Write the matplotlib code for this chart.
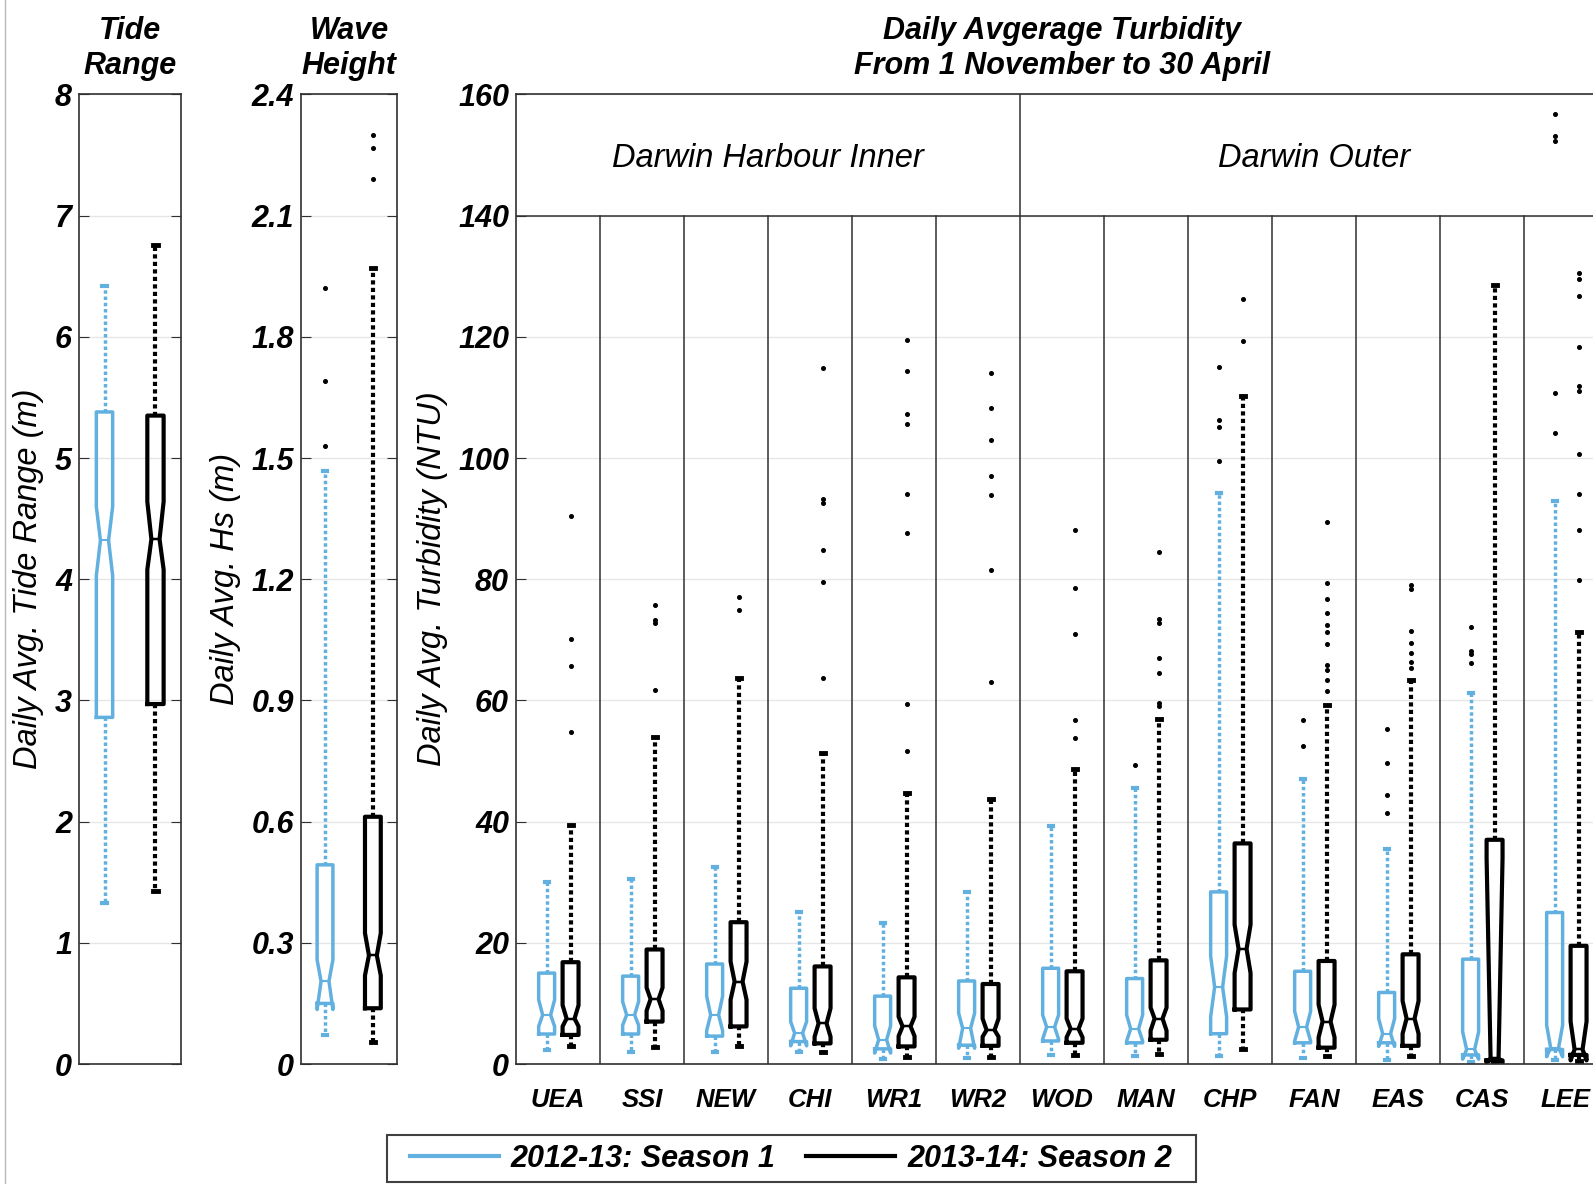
import matplotlib
matplotlib.use('Agg')
import matplotlib.pyplot as plt
from matplotlib import font_manager
from matplotlib.lines import Line2D
from matplotlib.patches import Rectangle

plt.rcParams['font.family'] = ['Liberation Sans', 'DejaVu Sans']

BLUE = '#62b0e0'
BLACK = '#000000'

# tide range (m)   [season 1, season 2]
tide_q1 = [2.86, 2.97]
tide_med = [4.32, 4.33]
tide_q3 = [5.38, 5.35]
tide_lo = [1.33, 1.43]
tide_hi = [6.42, 6.76]
tide_cilo = [4.03, 4.08]
tide_cihi = [4.60, 4.64]
tide_out = [[], []]

# wave height Hs (m)   [season 1, season 2]
wave_q1 = [0.150, 0.138]
wave_med = [0.205, 0.269]
wave_q3 = [0.493, 0.612]
wave_lo = [0.071, 0.055]
wave_hi = [1.469, 1.97]
wave_cilo = [0.135, 0.219]
wave_cihi = [0.258, 0.324]
wave_out = [[1.92, 1.69, 1.53], [2.30, 2.267, 2.19]]

# turbidity (NTU)
sites = ['UEA', 'SSI', 'NEW', 'CHI', 'WR1', 'WR2', 'WOD', 'MAN', 'CHP', 'FAN', 'EAS', 'CAS', 'LEE']

# season 1: 2012-13
s1_q1 = [4.95, 4.95, 4.6, 3.7, 2.5, 3.1, 3.8, 3.5, 5.0, 3.5, 3.5, 1.5, 2.4]
s1_med = [8.1, 8.1, 8.1, 5.1, 4.0, 5.9, 6.1, 5.8, 12.7, 6.1, 5.0, 2.4, 2.7]
s1_q3 = [15.0, 14.5, 16.5, 12.5, 11.2, 13.7, 15.8, 14.1, 28.4, 15.3, 11.8, 17.3, 25.0]
s1_lo = [2.3, 2.0, 2.0, 1.9, 0.8, 1.0, 1.5, 1.3, 1.3, 1.0, 0.7, 0.4, 0.7]
s1_hi = [30.1, 30.6, 32.5, 25.1, 23.2, 28.4, 39.3, 45.5, 94.2, 47.0, 35.5, 61.3, 92.9]
s1_cilo = [6.2, 6.4, 5.5, 3.0, 1.8, 2.6, 4.1, 3.8, 7.8, 3.8, 2.9, 0.8, 1.2]
s1_cihi = [10.6, 10.3, 11.2, 7.0, 6.3, 8.4, 8.1, 8.1, 17.8, 8.7, 7.5, 5.3, 6.4]
s1_out = [[], [], [], [], [], [], [],
          [49.3],
          [115.1, 106.3, 105.2, 99.5],
          [56.7, 52.4],
          [55.3, 49.7, 44.4, 41.5],
          [72.1, 68.1, 67.6, 66.1],
          [156.8, 153.2, 152.3, 110.7, 104.1]]

# season 2: 2013-14
s2_q1 = [4.8, 7.0, 6.2, 3.4, 2.9, 3.0, 3.5, 4.0, 9.0, 2.7, 3.0, 0.6, 1.5]
s2_med = [7.5, 10.7, 13.6, 6.7, 6.2, 5.6, 5.8, 7.5, 19.0, 7.0, 7.5, 1.0, 2.4]
s2_q3 = [16.8, 18.9, 23.4, 16.1, 14.3, 13.2, 15.3, 17.1, 36.4, 17.0, 18.1, 37.0, 19.5]
s2_lo = [2.9, 2.75, 3.0, 1.9, 1.2, 1.2, 1.5, 1.7, 2.4, 1.3, 1.3, 0.1, 0.5]
s2_hi = [39.4, 54.0, 63.7, 51.3, 44.7, 43.8, 48.7, 57.0, 110.2, 59.3, 63.3, 128.5, 71.3]
s2_cilo = [6.2, 8.8, 10.6, 4.5, 4.6, 4.5, 4.4, 5.5, 15.0, 4.4, 5.0, 0.2, 0.6]
s2_cihi = [9.7, 12.6, 16.9, 9.2, 7.8, 7.5, 7.5, 9.3, 23.0, 9.8, 10.4, 34.0, 7.0]
s2_out = [[90.5, 70.1, 65.7, 54.8],
          [75.8, 73.3, 72.7, 61.8],
          [77.0, 75.0],
          [114.9, 93.3, 92.5, 84.8, 79.6, 63.7],
          [119.4, 114.4, 107.2, 105.6, 94.0, 87.7, 59.4, 51.6],
          [114.1, 108.3, 103.0, 97.0, 93.9, 81.6, 63.1],
          [88.2, 78.5, 71.0, 56.8, 53.8],
          [84.5, 73.5, 72.8, 67.0, 64.5, 59.5, 59.0],
          [126.2, 119.3],
          [89.4, 79.3, 76.7, 74.4, 72.4, 71.3, 69.3, 65.8, 65.0, 63.3, 61.5],
          [79.0, 78.4, 71.4, 69.4, 67.8, 66.4, 65.3],
          [],
          [130.5, 129.6, 126.8, 118.4, 111.9, 111.0, 100.7, 94.1, 88.2, 79.8]]

groups = ['Darwin Harbour Inner', 'Darwin Outer']
legend_labels = ['2012-13: Season 1', '2013-14: Season 2']


def to_stats(q1, med, q3, lo, hi, cilo, cihi, out):
    return [dict(q1=a, med=m, q3=b, whislo=l, whishi=h, cilo=cl, cihi=ch, fliers=o)
            for a, m, b, l, h, cl, ch, o in zip(q1, med, q3, lo, hi, cilo, cihi, out)]


def draw(ax, stats, pos, width, color, lw):
    ax.bxp(stats, positions=pos, widths=width, shownotches=True, manage_ticks=False,
           capwidths=width * 0.25,
           boxprops=dict(color=color, lw=lw),
           whiskerprops=dict(color=color, lw=lw, linestyle=(0, (1, 0.8))),
           capprops=dict(color=color, lw=lw + 0.5),
           medianprops=dict(color=color, lw=lw * 0.6),
           flierprops=dict(marker='o', markersize=2.6, markerfacecolor='k',
                           markeredgecolor='k', linestyle='none'))


def style(ax, ymax, step, labels):
    ax.set_ylim(0, ymax)
    ticks = [i * step for i in range(len(labels))]
    ax.set_yticks(ticks)
    ax.set_yticklabels(labels, fontsize=22, fontweight='bold', style='italic')
    ax.tick_params(axis='y', direction='in', length=7, left=True, right=True, pad=5,
                   color='#303030')
    ax.tick_params(axis='x', length=0)
    ax.yaxis.grid(True, color='#e6e6e6', lw=1)
    ax.set_axisbelow(True)
    for s in ax.spines.values():
        s.set_color('#303030')
        s.set_linewidth(1.2)


fig = plt.figure(figsize=(15.93, 11.84), dpi=100)
bot, hgt = 0.10135, 0.8189
ax_t = fig.add_axes([0.0496, bot, 0.0640, hgt])
ax_w = fig.add_axes([0.1890, bot, 0.0601, hgt])
ax_b = fig.add_axes([0.3239, bot, 0.6855, hgt])

tfont = dict(fontsize=22, fontweight='bold', style='italic')

# tide
tide_stats = to_stats(tide_q1, tide_med, tide_q3, tide_lo, tide_hi, tide_cilo, tide_cihi, tide_out)
draw(ax_t, [tide_stats[0]], [1], 0.32, BLUE, 2.5)
draw(ax_t, [tide_stats[1]], [2], 0.32, BLACK, 3.0)
ax_t.set_xlim(0.5, 2.5)
ax_t.set_xticks([])
style(ax_t, 8, 1, [str(i) for i in range(9)])
ax_t.set_title('Tide\nRange', pad=15, **tfont)

# wave
wave_stats = to_stats(wave_q1, wave_med, wave_q3, wave_lo, wave_hi, wave_cilo, wave_cihi, wave_out)
draw(ax_w, [wave_stats[0]], [1], 0.33, BLUE, 2.5)
draw(ax_w, [wave_stats[1]], [2], 0.33, BLACK, 3.0)
ax_w.set_xlim(0.5, 2.5)
ax_w.set_xticks([])
style(ax_w, 2.4, 0.3, ['0', '0.3', '0.6', '0.9', '1.2', '1.5', '1.8', '2.1', '2.4'])
ax_w.set_title('Wave\nHeight', pad=15, **tfont)

# turbidity
n = len(sites)
st1 = to_stats(s1_q1, s1_med, s1_q3, s1_lo, s1_hi, s1_cilo, s1_cihi, s1_out)
st2 = to_stats(s2_q1, s2_med, s2_q3, s2_lo, s2_hi, s2_cilo, s2_cihi, s2_out)
draw(ax_b, st1, [i + 0.365 for i in range(n)], 0.19, BLUE, 2.5)
draw(ax_b, st2, [i + 0.65 for i in range(n)], 0.19, BLACK, 3.0)
ax_b.set_xlim(0, n)
style(ax_b, 160, 20, [str(i * 20) for i in range(9)])
ax_b.set_title('Daily Avgerage Turbidity\nFrom 1 November to 30 April', pad=15, **tfont)

names = {f.name for f in font_manager.fontManager.ttflist}
if 'Liberation Sans Narrow' in names:
    xfont = dict(family=['Liberation Sans Narrow', 'DejaVu Sans'], fontsize=22)
else:
    xfont = dict(fontsize=18.5)
ax_b.set_xticks([i + 0.5 for i in range(n)])
ax_b.set_xticklabels(sites, fontweight='bold', style='italic', **xfont)
ax_b.tick_params(axis='x', length=0, pad=17)

# header band and site separators
ax_b.axhline(140, color='#303030', lw=1.1)
n_inner = 6
for i in range(1, n):
    ax_b.plot([i, i], [0, 160 if i == n_inner else 140], color='#303030', lw=1.1)
ax_b.text(n_inner / 2, 149.5, groups[0], ha='center', va='center', fontsize=23.5, style='italic')
ax_b.text((n_inner + n) / 2, 149.5, groups[1], ha='center', va='center', fontsize=23.5, style='italic')

# y labels
lfont = dict(fontsize=23.5, style='italic', rotation=90, ha='center', va='center')
fig.text(0.0179, 0.511, 'Daily Avg. Tide Range (m)', **lfont)
fig.text(0.1416, 0.511, 'Daily Avg. Hs (m)', **lfont)
fig.text(0.2712, 0.511, 'Daily Avg. Turbidity (NTU)', **lfont)

# legend (frame drawn separately to get the wider side margins)
handles = [Line2D([], [], color=BLUE, lw=3), Line2D([], [], color=BLACK, lw=3)]
fig.legend(handles, legend_labels, loc='center', bbox_to_anchor=(0.4965, 0.0215), ncol=2,
           prop=dict(family=['Liberation Sans', 'DejaVu Sans'], size=22, weight='bold', style='italic'),
           handlelength=2.9, handletextpad=0.4, columnspacing=1.0, borderpad=0.25,
           frameon=False)
fig.add_artist(Rectangle((0.2429, 0.0017), 0.5079, 0.0397, transform=fig.transFigure,
                         facecolor='none', edgecolor='#404040', lw=1.5))

# thin page border on the left
fig.add_artist(Line2D([5 / 1593, 5 / 1593], [0, 1], transform=fig.transFigure, color='#b8b8b8', lw=1))

fig.savefig('out.png', dpi=100)
